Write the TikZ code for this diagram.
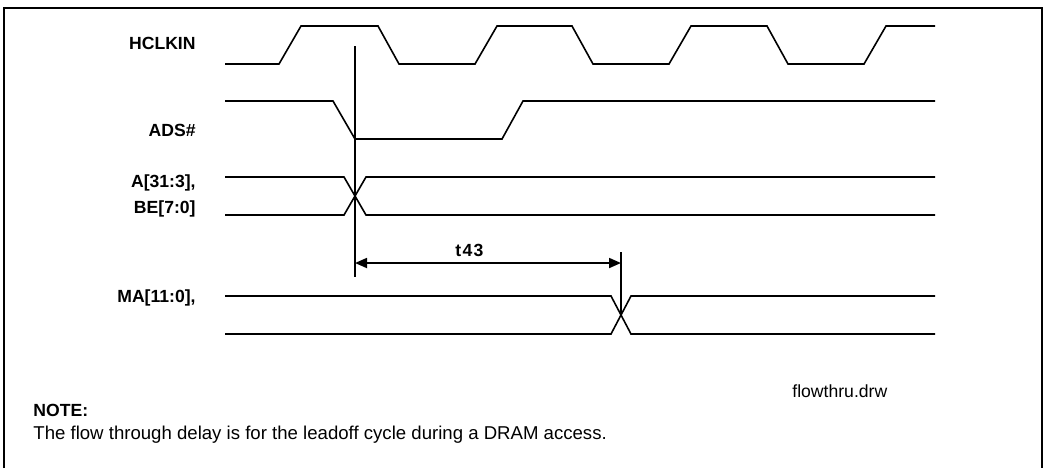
\documentclass[tikz,border=0pt]{standalone}
\usepackage{fontspec}
\setmainfont{Liberation Sans}
\usetikzlibrary{arrows.meta, positioning}
\tikzset{
    timingdiagram/.style={x=0.5pt, y=-0.5pt, line join=miter, font=\fontsize{8.8}{13}\selectfont},
    wave/.style={line width=0.8pt},
    marker/.style={line width=1pt},
    frame/.style={line width=1pt},
    signame/.style={anchor=east, inner sep=0pt, align=right, font=\fontsize{8.8}{13}\selectfont\bfseries},
    plaintext/.style={anchor=west, inner sep=0pt},
    % delay arrow with solid heads at both ends
    delay/.style={line width=0.9pt, {Triangle[length=6pt, width=5pt]}-{Triangle[length=6pt, width=5pt]}},
}
\begin{document}
\begin{tikzpicture}[timingdiagram]
        \useasboundingbox (0,0) rectangle (1043,468);
        \draw[frame] (4,468) -- (4,7.5) -- (1041.5,7.5) -- (1041.5,468);

        % signal names
        \node[signame] (hclk) at (196,43)  {HCLKIN};
        \node[signame] (ads)  at (196,130) {ADS\#};
        \node[signame] (addr) at (196,196) {A[31:3],\\BE[7:0]};
        \node[signame] (ma)   at (196,298) {MA[11:0],};

        % waveforms
        \draw[wave] (225,64) -- (279,64) -- (301,26) -- (378,26) -- (399,64) -- (475,64) -- (497,26)
            -- (572,26) -- (593,64) -- (669,64) -- (691,26) -- (767,26) -- (788,64) -- (864,64)
            -- (886,26) -- (935,26);
        \draw[wave] (225,101) -- (333,101) -- (355,139) -- (502,139) -- (523,101) -- (935,101);
        \draw[wave] (225,177) -- (344,177) -- (366,215) -- (935,215);
        \draw[wave] (225,215) -- (344,215) -- (366,177) -- (935,177);
        \draw[wave] (225,296) -- (611,296) -- (631,334) -- (935,334);
        \draw[wave] (225,334) -- (611,334) -- (631,296) -- (935,296);

        % timing markers
        \coordinate (m1top) at (355,46);
        \coordinate (m1bot) at (355,277);
        \coordinate (m2top) at (621,252);
        \coordinate (m2bot) at (621,315);
        \draw[marker] (m1top) -- (m1bot);
        \draw[marker] (m2top) -- (m2bot);

        \coordinate (t43a) at (355,263);
        \coordinate (t43b) at (621,263);
        \draw[delay] (t43a) -- node[pos=0.43, above=2.5pt, inner sep=0pt, font=\fontsize{8.8}{10}\selectfont\bfseries] (t43) {t\kern0.7pt 4\kern0.7pt 3} (t43b);

        % notes
        \node[plaintext] (drw)  at (792,391) {flowthru.drw};
        \node[plaintext, font=\fontsize{8.8}{10}\selectfont\bfseries] (note) at (33,410) {NOTE:};
        \node[plaintext, font=\fontsize{9.3}{11}\selectfont] (notetext) at (33,435) {The flow through delay is for the leadoff cycle during a DRAM access.};
    \end{tikzpicture}
\end{document}
